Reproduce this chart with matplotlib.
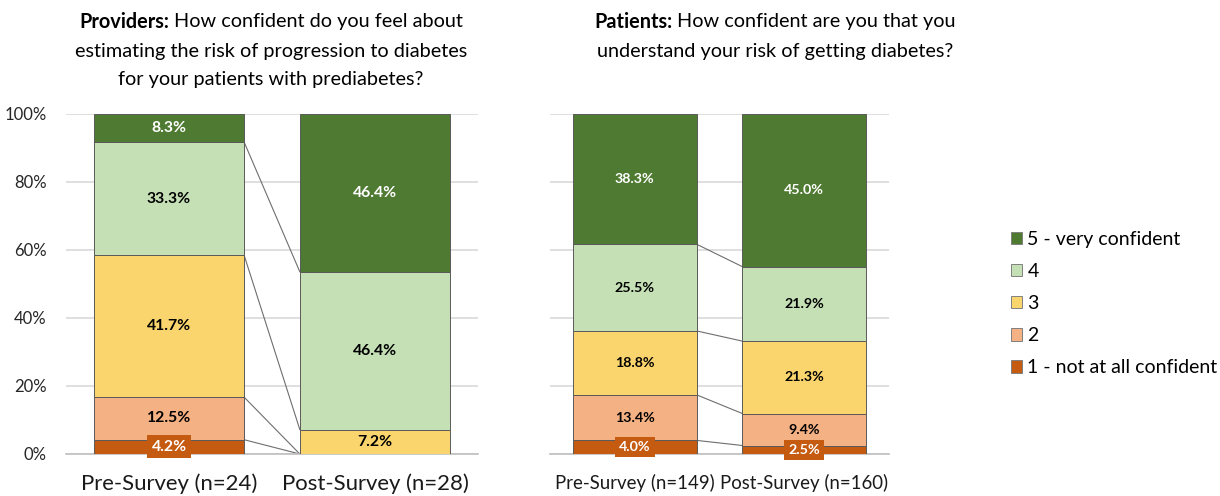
import numpy as np
import matplotlib
matplotlib.use("Agg")
import matplotlib.pyplot as plt
from matplotlib.patches import Patch

plt.rcParams['font.family'] = ['Lato', 'DejaVu Sans']

# Data (percent of respondents)
levels = ['1 - not at all confident', '2', '3', '4', '5 - very confident']
colors = ['#C55A11', '#F4B183', '#FAD56E', '#C5E0B4', '#4F7A32']

prov_groups = ['Pre-Survey (n=24)', 'Post-Survey (n=28)']
prov_pre = [4.2, 12.5, 41.7, 33.3, 8.3]
prov_post = [0.0, 0.0, 7.2, 46.4, 46.4]

pat_groups = ['Pre-Survey (n=149)', 'Post-Survey (n=160)']
pat_pre = [4.0, 13.4, 18.8, 25.5, 38.3]
pat_post = [2.5, 9.4, 21.3, 21.9, 45.0]

W, H = 1220, 496
fig = plt.figure(figsize=(W / 100, H / 100), dpi=100)


def px_axes(x0, x1, y_top, y_bot):
    return fig.add_axes([x0 / W, 1 - y_bot / H, (x1 - x0) / W, (y_bot - y_top) / H])


def draw_panel(ax, groups, pre, post, show_y, vsize, xsize):
    width = 0.73
    data = np.array([pre, post])
    xs = np.arange(2)
    bottoms = np.zeros(2)
    for k in range(len(levels)):
        vals = data[:, k]
        ax.bar(xs, vals, width, bottom=bottoms, color=colors[k],
               edgecolor='#5a5a5a', linewidth=0.7, zorder=3)
        for i in range(2):
            v = vals[i]
            if v <= 0:
                continue
            yc = bottoms[i] + v / 2
            if k == 0:
                ax.text(xs[i], yc, f'{v:.1f}%', ha='center', va='center',
                        fontsize=vsize, fontweight='bold', color='white', zorder=5,
                        bbox=dict(boxstyle='square,pad=0.28', fc=colors[0], ec='none'))
            elif k == 4:
                ax.text(xs[i], yc, f'{v:.1f}%', ha='center', va='center',
                        fontsize=vsize, fontweight='bold', color='white', zorder=5)
            else:
                ax.text(xs[i], yc, f'{v:.1f}%', ha='center', va='center',
                        fontsize=vsize, fontweight='bold', color='black', zorder=5)
        bottoms = bottoms + vals
    # series lines between bars
    cum = np.cumsum(data, axis=1)
    for k in range(len(levels) - 1):
        ax.plot([xs[0] + width / 2, xs[1] - width / 2], [cum[0, k], cum[1, k]],
                color='#6e6e6e', lw=0.8, zorder=2)

    ax.set_xlim(-0.5, 1.5)
    ax.set_ylim(0, 100)
    ax.set_yticks(np.arange(0, 101, 20))
    ax.set_yticklabels([f'{t}%' for t in range(0, 101, 20)] if show_y else [])
    ax.yaxis.grid(True, color='#d9d9d9', lw=1.2, zorder=0)
    ax.set_axisbelow(True)
    for s in ['top', 'right', 'left']:
        ax.spines[s].set_visible(False)
    ax.spines['bottom'].set_color('#bfbfbf')
    ax.spines['bottom'].set_linewidth(1.2)
    ax.tick_params(axis='y', length=0, pad=14, labelsize=12, labelcolor='#262626')
    ax.tick_params(axis='x', length=0, pad=14, labelsize=xsize, labelcolor='#1a1a1a')
    ax.set_xticks(xs)
    ax.set_xticklabels(groups)


ax1 = px_axes(66, 478, 114, 454)
ax2 = px_axes(550, 889, 114, 454)
draw_panel(ax1, prov_groups, prov_pre, prov_post, True, 11.3, 15.9)
draw_panel(ax2, pat_groups, pat_pre, pat_post, False, 10.3, 13.4)


def mixed_title(cx, lines, y0, dy, bold_word):
    fig.canvas.draw()
    r = fig.canvas.get_renderer()
    rest = lines[0][len(bold_word):].strip()
    tb = fig.text(0, 0, bold_word, fontsize=14.3, fontweight='bold')
    tr = fig.text(0, 0, rest, fontsize=14.3)
    wb = tb.get_window_extent(r).width
    wr = tr.get_window_extent(r).width
    gap = 5
    left = cx - (wb + gap + wr) / 2
    tb.set_position((left / W, 1 - y0 / H))
    tb.set_va('center')
    tr.set_position(((left + wb + gap) / W, 1 - y0 / H))
    tr.set_va('center')
    for j, line in enumerate(lines[1:], start=1):
        fig.text(cx / W, 1 - (y0 + j * dy) / H, line, fontsize=14.3,
                 ha='center', va='center')


mixed_title(271, ['Providers: How confident do you feel about',
                  'estimating the risk of progression to diabetes',
                  'for your patients with prediabetes?'], 22, 29, 'Providers:')
mixed_title(775, ['Patients: How confident are you that you',
                  'understand your risk of getting diabetes?'], 22, 29, 'Patients:')

handles = [Patch(facecolor=colors[k], edgecolor='#808080', lw=0.7, label=levels[k])
           for k in range(len(levels) - 1, -1, -1)]
fig.legend(handles=handles, loc='upper left', bbox_to_anchor=(1003 / W, 1 - 223 / H),
           frameon=False, fontsize=14, handlelength=0.6, handleheight=0.6,
           handletextpad=0.25, labelspacing=0.78, borderaxespad=0)

fig.savefig('out.png', dpi=100)
